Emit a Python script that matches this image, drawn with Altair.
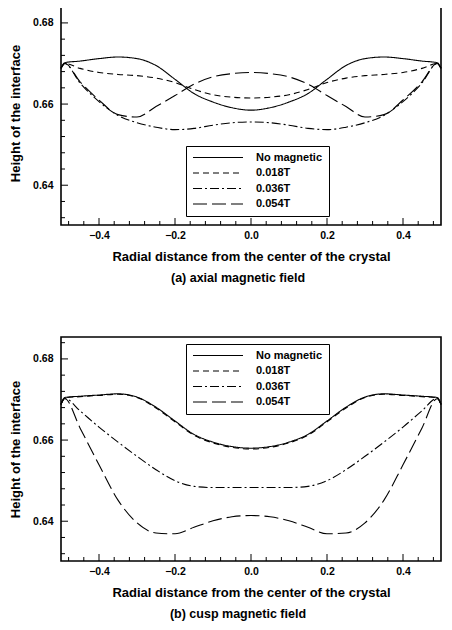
import altair as alt
import pandas as pd

FONT = "Liberation Sans"

# radial positions
r = [-0.5, -0.49, -0.45, -0.4, -0.35, -0.3, -0.25, -0.2, -0.15, -0.1, -0.05, 0.0,
     0.05, 0.1, 0.15, 0.2, 0.25, 0.3, 0.35, 0.4, 0.45, 0.49, 0.5]

series_names = ["No magnetic", "0.018T", "0.036T", "0.054T"]

# (a) axial magnetic field
axial_none = [0.6688, 0.6702, 0.6706, 0.6712, 0.6716, 0.6712, 0.6695, 0.6661, 0.6626, 0.6605, 0.6591, 0.6585,
              0.6591, 0.6605, 0.6626, 0.6661, 0.6695, 0.6712, 0.6716, 0.6712, 0.6706, 0.6702, 0.6688]
axial_018 = [0.6688, 0.6700, 0.6688, 0.6678, 0.6673, 0.6670, 0.6664, 0.6653, 0.6636, 0.6623, 0.6617, 0.6615,
             0.6617, 0.6623, 0.6636, 0.6653, 0.6664, 0.6670, 0.6673, 0.6678, 0.6688, 0.6700, 0.6688]
axial_036 = [0.6688, 0.6700, 0.6652, 0.6606, 0.6572, 0.6554, 0.6543, 0.6537, 0.6540, 0.6548, 0.6554, 0.6556,
             0.6554, 0.6548, 0.6540, 0.6537, 0.6543, 0.6554, 0.6572, 0.6606, 0.6652, 0.6700, 0.6688]
axial_054 = [0.6688, 0.6700, 0.6655, 0.6610, 0.6574, 0.6568, 0.6594, 0.6621, 0.6649, 0.6667, 0.6675, 0.6678,
             0.6675, 0.6667, 0.6649, 0.6621, 0.6594, 0.6568, 0.6574, 0.6610, 0.6655, 0.6700, 0.6688]

# (b) cusp magnetic field
cusp_none = [0.6688, 0.6705, 0.6708, 0.6711, 0.6714, 0.6706, 0.6681, 0.6647, 0.6614, 0.6595, 0.6584, 0.6580,
             0.6584, 0.6595, 0.6614, 0.6647, 0.6681, 0.6706, 0.6714, 0.6711, 0.6708, 0.6705, 0.6688]
cusp_018 = [0.6688, 0.6704, 0.6707, 0.6710, 0.6713, 0.6705, 0.6679, 0.6645, 0.6612, 0.6593, 0.6582, 0.6578,
            0.6582, 0.6593, 0.6612, 0.6645, 0.6679, 0.6705, 0.6713, 0.6710, 0.6707, 0.6704, 0.6688]
cusp_036 = [0.6688, 0.6703, 0.6672, 0.6632, 0.6595, 0.6560, 0.6527, 0.6500, 0.6486, 0.6483, 0.6483, 0.6483,
            0.6483, 0.6483, 0.6486, 0.6500, 0.6527, 0.6560, 0.6595, 0.6632, 0.6672, 0.6703, 0.6688]
cusp_054 = [0.6688, 0.6702, 0.6630, 0.6539, 0.6452, 0.6396, 0.6371, 0.6369, 0.6385, 0.6401, 0.6411, 0.6414,
            0.6411, 0.6401, 0.6385, 0.6369, 0.6371, 0.6396, 0.6452, 0.6539, 0.6630, 0.6702, 0.6688]

x_major = [-0.4, -0.2, 0.0, 0.2, 0.4]
x_minor = [-0.48, -0.44, -0.36, -0.32, -0.28, -0.24, -0.16, -0.12, -0.08, -0.04,
           0.04, 0.08, 0.12, 0.16, 0.24, 0.28, 0.32, 0.36, 0.44, 0.48]
y_major = [0.64, 0.66, 0.68]
y_minor = [0.632, 0.636, 0.644, 0.648, 0.652, 0.656, 0.664, 0.668, 0.672, 0.676, 0.684]

W, H = 380, 224
XT = "Radial distance from the center of the crystal"
YT = "Height of the interface"

xs = alt.Scale(domain=[-0.5, 0.5], nice=False, zero=False)
ys = alt.Scale(domain=[0.6302, 0.6854], nice=False, zero=False)

xaxis = alt.Axis(values=x_major, format=".1f", domain=False, ticks=False, grid=False,
                 labelPadding=5, titlePadding=10, labelFontSize=10.5, titleFontSize=13)
yaxis = alt.Axis(values=y_major, format=".2f", domain=False, ticks=False, grid=False,
                 labelPadding=8, titlePadding=10, labelFontSize=10.5, titleFontSize=13)


def panel(vals, subtitle, lx, ly):
    rows = []
    for name, v in zip(series_names, vals):
        for xi, yi in zip(r, v):
            rows.append({"r": xi, "h": yi, "series": name})
    df = pd.DataFrame(rows)
    lines = alt.Chart(df).mark_line(color="black", strokeWidth=1.1, interpolate="monotone").encode(
        x=alt.X("r:Q", scale=xs, axis=xaxis, title=XT),
        y=alt.Y("h:Q", scale=ys, axis=yaxis, title=YT),
        strokeDash=alt.StrokeDash(
            "series:N",
            scale=alt.Scale(domain=series_names, range=[[1, 0], [6, 4], [9, 3, 2, 3], [14, 5]]),
            legend=alt.Legend(
                title=None, orient="none", legendX=lx, legendY=ly,
                symbolType="M-1,0H1", symbolSize=2500, symbolStrokeWidth=1.1,
                symbolStrokeColor="black", labelFontSize=11, labelFont=FONT,
                labelFontWeight="bold", clipHeight=11,
                labelOffset=12, rowPadding=3.5, padding=6,
                strokeColor="black", fillColor="white", labelLimit=200,
            ),
        ),
        detail="series:N",
    )
    xmaj = alt.Chart(pd.DataFrame({"r": x_major})).mark_rule(color="black").encode(
        x=alt.X("r:Q", scale=xs, axis=xaxis, title=XT), y=alt.value(H), y2=alt.value(H - 7))
    xmin = alt.Chart(pd.DataFrame({"r": x_minor})).mark_rule(color="black").encode(
        x=alt.X("r:Q", scale=xs, axis=xaxis, title=XT), y=alt.value(H), y2=alt.value(H - 4))
    ymaj = alt.Chart(pd.DataFrame({"h": y_major})).mark_rule(color="black").encode(
        y=alt.Y("h:Q", scale=ys, axis=yaxis, title=YT), x=alt.value(0), x2=alt.value(7))
    ymin = alt.Chart(pd.DataFrame({"h": y_minor})).mark_rule(color="black").encode(
        y=alt.Y("h:Q", scale=ys, axis=yaxis, title=YT), x=alt.value(0), x2=alt.value(4))
    return alt.layer(lines, xmaj, xmin, ymaj, ymin).properties(
        width=W, height=H,
        title=alt.TitleParams(subtitle, orient="bottom", anchor="middle", dx=-13,
                              fontSize=12.5, fontWeight="bold", font=FONT, offset=8),
    )


top = panel([axial_none, axial_018, axial_036, axial_054], "(a) axial magnetic field", 125, 145)
bottom = panel([cusp_none, cusp_018, cusp_036, cusp_054], "(b) cusp magnetic field", 125, 7)

chart = alt.vconcat(top, bottom, spacing=51).resolve_scale(
    strokeDash="independent"
).resolve_legend(strokeDash="independent").properties(
    padding={"top": -8, "left": 0, "right": 0, "bottom": 0}
).configure_view(stroke="black", strokeWidth=1.6).configure_axis(
    labelFont=FONT, titleFont=FONT, labelColor="black", titleColor="black",
    titleFontWeight="bold", labelFontWeight="bold"
).configure_legend(labelColor="black")

chart.save("out.html", embed_options={"renderer": "svg", "actions": False})
